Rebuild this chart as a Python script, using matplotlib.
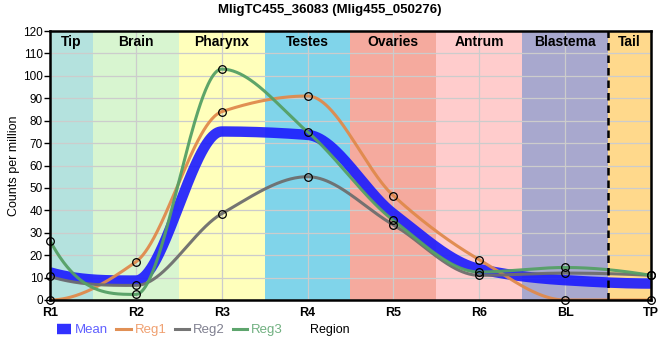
import numpy as np
import matplotlib
matplotlib.use("Agg")
import matplotlib.pyplot as plt

plt.rcParams['font.family'] = ['Liberation Sans', 'DejaVu Sans']

# Data
positions = ["R1", "R2", "R3", "R4", "R5", "R6", "BL", "TP"]
reg1 = [0, 17, 84, 91, 46.5, 18, 0, 0]
reg2 = [10.5, 6.5, 38.5, 55, 33.5, 11, 12, 11]
reg3 = [26.5, 2.5, 103, 75, 35.5, 12.5, 14.5, 11]

regions = ["Tip", "Brain", "Pharynx", "Testes", "Ovaries", "Antrum", "Blastema", "Tail"]
region_colors = ["#b4e2de", "#d8f5d0", "#ffffbb", "#80d4ea",
                 "#f5aa9e", "#ffcccc", "#a8a8ce", "#ffd98c"]

title = "MligTC455_36083 (Mlig455_050276)"


def pchip(x, y, xs):
    # monotone cubic (Fritsch-Carlson) used to smooth the lines
    x = np.asarray(x, float)
    y = np.asarray(y, float)
    h = np.diff(x)
    d = np.diff(y) / h
    n = len(x)
    m = np.zeros(n)
    for k in range(1, n - 1):
        if d[k - 1] * d[k] > 0:
            w1 = 2 * h[k] + h[k - 1]
            w2 = h[k] + 2 * h[k - 1]
            m[k] = (w1 + w2) / (w1 / d[k - 1] + w2 / d[k])

    def end(h0, h1, d0, d1):
        s = ((2 * h0 + h1) * d0 - h0 * d1) / (h0 + h1)
        if np.sign(s) != np.sign(d0):
            return 0.0
        if np.sign(d0) != np.sign(d1) and abs(s) > 3 * abs(d0):
            return 3 * d0
        return s

    m[0] = end(h[0], h[1], d[0], d[1])
    m[-1] = end(h[-1], h[-2], d[-1], d[-2])

    idx = np.clip(np.searchsorted(x, xs) - 1, 0, n - 2)
    t = (xs - x[idx]) / h[idx]
    h00 = 2 * t**3 - 3 * t**2 + 1
    h10 = t**3 - 2 * t**2 + t
    h01 = -2 * t**3 + 3 * t**2
    h11 = t**3 - t**2
    return (h00 * y[idx] + h10 * h[idx] * m[idx]
            + h01 * y[idx + 1] + h11 * h[idx] * m[idx + 1])


x = np.arange(len(positions))
mean = np.mean([reg1, reg2, reg3], axis=0)
xs = np.linspace(0, len(positions) - 1, 700)

fig = plt.figure(figsize=(6.6, 3.6), dpi=100)
ax = fig.add_axes([50 / 660, 60 / 360, 601 / 660, 269 / 360])

# region backgrounds
edges = [0] + [i + 0.5 for i in range(len(positions) - 1)] + [len(positions) - 1]
for i, (name, col) in enumerate(zip(regions, region_colors)):
    ax.axvspan(edges[i], edges[i + 1], color=col, lw=0, zorder=0)
    ax.text((edges[i] + edges[i + 1]) / 2, 115.3, name, ha="center", va="center",
            fontsize=10, fontweight="bold", zorder=6)

ax.set_axisbelow(False)
ax.grid(True, color="#cccccc", lw=0.9, zorder=1)
ax.axvline(6.5, color="black", lw=1.8, ls=(0, (3, 2)), zorder=5)

series = [(reg1, "#e08a4c", "Reg1"), (reg2, "#6e6e6e", "Reg2"), (reg3, "#55a065", "Reg3")]
ax.plot(xs, pchip(x, mean, xs), color="#1a1aff", lw=7.5, alpha=0.9,
        solid_capstyle="butt", zorder=3, label="Mean")
for vals, col, lab in series:
    ax.plot(xs, pchip(x, vals, xs), color=col, lw=2.2, alpha=0.95, zorder=3, label=lab)
for vals, col, lab in series:
    ax.plot(x, vals, ls="none", marker="o", ms=5.5, mfc="none", mec="black",
            mew=0.9, zorder=4, clip_on=False)

ax.set_xlim(0, 7)
ax.set_ylim(0, 120)
ax.set_yticks(np.arange(0, 121, 10))
ax.set_xticks(x)
ax.set_xticklabels(positions, fontweight="bold")
ax.tick_params(axis="y", labelsize=8.5, length=4, width=1, pad=1)
ax.tick_params(axis="x", labelsize=9, length=0, pad=5)
for s in ax.spines.values():
    s.set_linewidth(1.8)
    s.set_zorder(5)
ax.set_ylabel("Counts per million", fontsize=9)
ax.yaxis.set_label_coords(-0.05, 0.5)

fig.text(0.5, 1 - 10 / 360, title, ha="center", va="center",
         fontsize=9.5, fontweight="bold")
fig.text(0.5, 30 / 360, "Region", ha="center", va="center", fontsize=9)

handles, labels = ax.get_legend_handles_labels()
leg = fig.legend(handles, labels, loc="center left", bbox_to_anchor=(0.068, 30 / 360),
                 ncol=4, frameon=False, fontsize=9.5, handlelength=1.1,
                 handletextpad=0.3, columnspacing=0.6)
text_colors = ["#6060ff", "#f0a070", "#808090", "#70b080"]
for t, c in zip(leg.get_texts(), text_colors):
    t.set_color(c)

fig.savefig("out.png", dpi=100)
